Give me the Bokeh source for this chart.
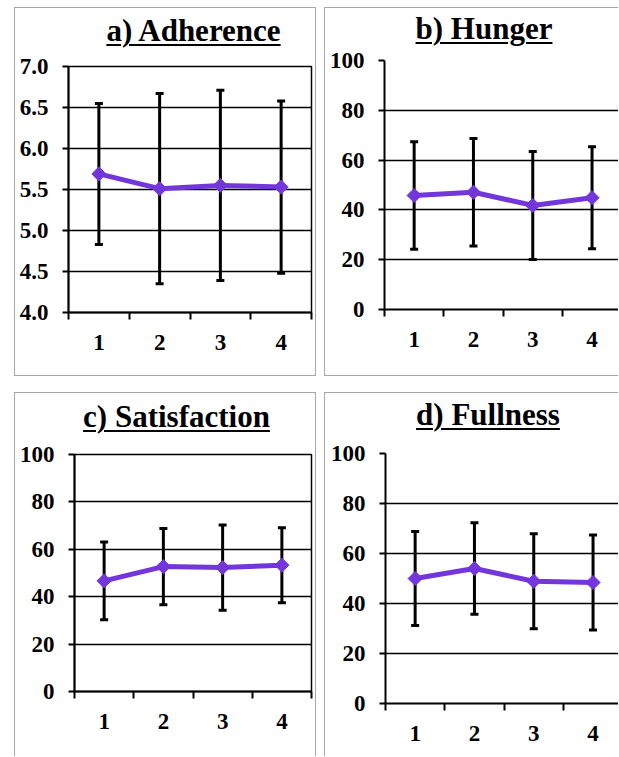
import math
from bokeh.plotting import figure
from bokeh.layouts import column, row
from bokeh.models import (ColumnDataSource, Whisker, TeeHead, FixedTicker, Div,
                          Range1d, NumeralTickFormatter)
from bokeh.embed import file_html
from bokeh.resources import INLINE

# ---------------- data ----------------
sessions = [1, 2, 3, 4]
boundaries = [0.5, 1.5, 2.5, 3.5, 4.5]

adherence_mean = [5.69, 5.51, 5.55, 5.53]
adherence_sd = [0.86, 1.16, 1.16, 1.05]
adherence_ticks = [4.0, 4.5, 5.0, 5.5, 6.0, 6.5, 7.0]

hunger_mean = [45.8, 47.1, 41.8, 44.9]
hunger_sd = [21.6, 21.6, 21.7, 20.5]

satisfaction_mean = [46.7, 52.7, 52.3, 53.3]
satisfaction_sd = [16.4, 16.1, 18.0, 15.8]

fullness_mean = [50.0, 54.0, 48.9, 48.4]
fullness_sd = [18.8, 18.3, 19.0, 19.0]

vas_ticks = [0, 20, 40, 60, 80, 100]

titles = ["a) Adherence", "b) Hunger", "c) Satisfaction", "d) Fullness"]

PURPLE = "#7236DB"
FONT = "Liberation Serif"
PANEL_GREY = "#a8a8a8"


def make_fig(mean, sd, yticks, fmt, width, height, mb, xend, outline):
    upper = [m + s for m, s in zip(mean, sd)]
    lower = [m - s for m, s in zip(mean, sd)]
    src = ColumnDataSource(dict(x=sessions, mean=mean, upper=upper, lower=lower))
    p = figure(width=width, height=height,
               x_range=Range1d(0.5, xend), y_range=Range1d(yticks[0], yticks[-1]),
               output_backend="svg", toolbar_location=None,
               min_border_left=mb[0], min_border_right=mb[1],
               min_border_top=mb[2], min_border_bottom=mb[3],
               border_fill_color=None, background_fill_color=None,
               outline_line_color="black" if outline else None,
               outline_line_width=1.5, margin=0)
    p.xgrid.grid_line_color = None
    p.ygrid.grid_line_color = "black"
    p.ygrid.grid_line_width = 1.5
    p.ygrid.ticker = FixedTicker(ticks=yticks)

    ya = p.yaxis[0]
    ya.ticker = FixedTicker(ticks=yticks)
    if fmt:
        ya.formatter = NumeralTickFormatter(format=fmt)
    ya.axis_line_color = "black"
    ya.axis_line_width = 2
    ya.major_tick_in = 0
    ya.major_tick_out = 6
    ya.major_tick_line_width = 2
    ya.minor_tick_line_color = None
    ya.major_label_standoff = 14

    xa = p.xaxis[0]
    xa.ticker = FixedTicker(ticks=sessions, minor_ticks=boundaries)
    xa.axis_line_color = "black"
    xa.axis_line_width = 2
    xa.major_tick_in = 0
    xa.major_tick_out = 0
    xa.minor_tick_in = 0
    xa.minor_tick_out = 7
    xa.minor_tick_line_color = "black"
    xa.minor_tick_line_width = 2
    xa.major_label_standoff = 15
    for ax in (xa, ya):
        ax.major_label_text_font = FONT
        ax.major_label_text_font_style = "bold"
        ax.major_label_text_font_size = "23px"
        ax.major_label_text_color = "black"

    p.add_layout(Whisker(base="x", upper="upper", lower="lower", source=src,
                         line_color="black", line_width=3,
                         upper_head=TeeHead(size=8, line_width=3, line_color="black"),
                         lower_head=TeeHead(size=8, line_width=3, line_color="black")))
    p.line("x", "mean", source=src, line_color=PURPLE, line_width=5)
    p.scatter("x", "mean", source=src, marker="square", angle=math.pi / 4,
              size=10, fill_color=PURPLE, line_color=PURPLE)
    return p


def make_title(text, width, height, pad_left, baseline):
    # font 31px, line-height 31px -> baseline about 26px below line top
    pad_top = baseline - 26
    html = (f'<div style="width:{width}px; box-sizing:border-box; text-align:center; '
            f'padding-left:{pad_left}px; padding-top:{pad_top}px; '
            f'font-family:Liberation Serif, serif; font-weight:bold; '
            f'font-size:31px; line-height:31px; '
            f'color:black; text-decoration:underline; text-decoration-thickness:2px; '
            f'text-underline-offset:3px; white-space:nowrap;">{text}</div>')
    return Div(text=html, width=width, height=height, margin=0)


def make_panel(title_div, fig, shadow):
    return column(title_div, fig, spacing=0, margin=0,
                  styles={"box-shadow": shadow})


fa = make_fig(adherence_mean, adherence_sd, adherence_ticks, "0.0",
              302, 329, (54, 5, 19, 64), 4.5, True)
fb = make_fig(hunger_mean, hunger_sd, vas_ticks, None,
              294, 329, (60, 0, 13, 67), 0.5 + 234 / 59.3, False)
fc = make_fig(satisfaction_mean, satisfaction_sd, vas_ticks, None,
              302, 324, (60, 5, 22, 65), 4.5, True)
fd = make_fig(fullness_mean, fullness_sd, vas_ticks, None,
              294, 324, (61, 0, 21, 53), 0.5 + 233 / 59.3, False)

ta = make_title(titles[0], 302, 40, 57, 34)
tb = make_title(titles[1], 294, 40, 26, 32)
tc = make_title(titles[2], 302, 40, 23, 35)
td = make_title(titles[3], 294, 40, 34, 33)

pa = make_panel(ta, fa, f"inset 0 0 0 1px {PANEL_GREY}")
pb = make_panel(tb, fb, f"inset 1px 1px 0 {PANEL_GREY}, inset 0 -1px 0 {PANEL_GREY}")
pc = make_panel(tc, fc, f"inset 1px 1px 0 {PANEL_GREY}, inset -1px 0 0 {PANEL_GREY}")
pd = make_panel(td, fd, f"inset 1px 1px 0 {PANEL_GREY}")

top_row = row(pa, pb, spacing=8, margin=(7, 0, 0, 14))
bottom_row = row(pc, pd, spacing=8, margin=(0, 0, 0, 14))
layout = column(top_row, bottom_row, spacing=16, margin=0)

open("out.html", "w").write(file_html(layout, INLINE))
